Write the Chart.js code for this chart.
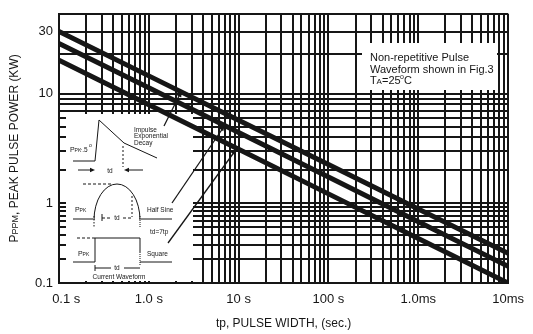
<!DOCTYPE html>
<html><head><meta charset="utf-8">
<script src="https://cdn.jsdelivr.net/npm/chart.js@4/dist/chart.umd.min.js"></script>
<style>html,body{margin:0;padding:0;background:#fff}canvas{display:block}</style>
</head><body>
<canvas id="c" width="533" height="334"></canvas>
<script>
// ---- data (pulse width in microseconds, peak pulse power in kW) ----
const pulseWidthUs = [0.1, 1, 10, 100, 1000, 10000];
const topCurveKW = [30, 13.7, 5.71, 2.25, 0.843, 0.235];
const middleCurveKW = [24.3, 11.1, 4.42, 1.73, 0.586, 0.162];
const bottomCurveKW = [18.1, 7.93, 3.10, 1.215, 0.361, 0.1];

const xTickValues = [0.1, 1, 10, 100, 1000, 10000];
const xTickLabels = ['    0.1 s', '1.0 s', '10 s', '100 s', '1.0ms', '10ms'];
const yTickValues = [0.1, 1, 10, 30];
const yTickLabels = ['0.1', '1', '10', '30'];

// minor grid (1..9 per decade)
const xGrid = [];
[0.1, 1, 10, 100, 1000].forEach(d => { for (let m = 1; m <= 9; m++) xGrid.push(+(m * d).toPrecision(6)); });
xGrid.push(10000);
const yGrid = [];
[0.1, 1].forEach(d => { for (let m = 1; m <= 9; m++) yGrid.push(+(m * d).toPrecision(6)); });
yGrid.push(10, 20, 30, 40);

// the printed y axis is not evenly spaced per decade: piecewise log scale
const yAnchorValues = [0.1, 1, 10, 30, 40];
const yAnchorFractions = [0, 0.2967, 0.7033, 0.934, 1];
const yAnchorLogs = yAnchorValues.map(Math.log10);
function logToDecimal(L) {
  let i = 0;
  while (i < yAnchorLogs.length - 2 && L > yAnchorLogs[i + 1]) i++;
  return yAnchorFractions[i] + (L - yAnchorLogs[i]) / (yAnchorLogs[i + 1] - yAnchorLogs[i]) * (yAnchorFractions[i + 1] - yAnchorFractions[i]);
}
function decimalToLog(d) {
  let i = 0;
  while (i < yAnchorFractions.length - 2 && d > yAnchorFractions[i + 1]) i++;
  return yAnchorLogs[i] + (d - yAnchorFractions[i]) / (yAnchorFractions[i + 1] - yAnchorFractions[i]) * (yAnchorLogs[i + 1] - yAnchorLogs[i]);
}
class PiecewiseLogScale extends Chart.LogarithmicScale {
  getPixelForValue(value) {
    if (value === undefined || value === 0) value = this.min;
    if (value === null || isNaN(value)) return NaN;
    return this.getPixelForDecimal(logToDecimal(Math.log10(value)));
  }
  getValueForPixel(pixel) {
    return Math.pow(10, decimalToLog(this.getDecimalForPixel(pixel)));
  }
}
PiecewiseLogScale.id = 'piecewiseLog';
PiecewiseLogScale.defaults = Chart.LogarithmicScale.defaults;
Chart.register(PiecewiseLogScale);

const INK = '#161616';
const FONT = '"Liberation Sans", Arial, Helvetica, sans-serif';

function near(a, b) { return Math.abs(a.toString().trim ? 0 : 0) + Math.abs(a - b) < 1e-9 * Math.max(1, Math.abs(b)); }

// ---- decorative overlay: inset waveforms, note box, y-axis title with small caps ----
const overlay = {
  id: 'overlay',
  beforeDatasetsDraw(chart) {
    const c = chart.ctx;
    c.save();
    c.fillStyle = '#fff';
    c.fillRect(66, 114, 127, 167);   // inset panel
    c.fillRect(362, 43, 135, 47);    // note box
    c.strokeStyle = INK; c.fillStyle = INK; c.lineWidth = 1;
    const L = (pts, dash) => { c.setLineDash(dash || []); c.beginPath(); c.moveTo(pts[0], pts[1]); for (let i = 2; i < pts.length; i += 2) c.lineTo(pts[i], pts[i + 1]); c.stroke(); c.setLineDash([]); };
    const T = (s, x, y, size, align) => { c.font = size + 'px ' + FONT; c.textAlign = align || 'left'; c.textBaseline = 'middle'; c.fillText(s, x, y); };
    const ppk = (x, y) => { T('P', x, y, 7); T('PK', x + 4.6, y + 0.5, 5); };
    const head = (x1, y1, x2, y2, len, w) => { const a = Math.atan2(y2 - y1, x2 - x1); c.beginPath(); c.moveTo(x2, y2); c.lineTo(x2 - len * Math.cos(a) + w * Math.sin(a), y2 - len * Math.sin(a) - w * Math.cos(a)); c.lineTo(x2 - len * Math.cos(a) - w * Math.sin(a), y2 - len * Math.sin(a) + w * Math.cos(a)); c.closePath(); c.fill(); };

    // exponential decay pulse
    L([73, 161, 95, 161, 99, 120, 124, 143, 157, 158]);
    L([123, 146, 123, 167], [2, 2]);
    L([78, 170, 93, 170]); head(78, 170, 95, 170, 5, 2.2);
    L([143, 170, 127, 170]); head(143, 170, 124, 170, 5, 2.2);
    T('td', 110, 171, 6.5, 'center');
    ppk(70, 150); T('·.5', 80, 150, 6.5); T('o', 89, 146, 5);
    T('Impulse', 134, 130, 6.5); T('Exponential', 134, 136.5, 6.5); T('Decay', 134, 143, 6.5);

    // half sine
    L([83, 184, 113, 184], [3, 2]);
    c.beginPath(); c.ellipse(117, 220, 23, 36, 0, Math.PI, 2 * Math.PI); c.stroke();
    L([73, 219, 93, 219]); L([141, 219, 172, 219]);
    L([94, 216, 94, 228], [1.5, 1.5]); L([140, 216, 140, 228], [1, 1]);
    L([132, 196, 132, 217], [2, 2]);
    L([102, 214, 102, 221]);
    L([102, 218, 112, 218], [3, 2]); L([123, 218, 132, 218], [3, 2]);
    T('td', 117, 218, 6.5, 'center');
    ppk(75, 210); T('Half Sine', 147, 210, 6.5);
    T('td=7tp', 150, 232, 6.5);

    // square
    L([77, 238, 95, 238], [3, 2]);
    L([73, 262, 95, 262, 95, 238, 140, 238, 140, 252]);
    L([140, 252, 140, 266], [1, 1]);
    L([140, 262, 172, 262]);
    L([95, 265, 95, 271]); L([95, 268, 111, 268]); L([124, 268, 140, 268]);
    T('td', 117, 268, 6.5, 'center');
    ppk(78, 254); T('Square', 147, 254, 6.5);
    T('Current Waveform', 119, 277, 6.5, 'center');

    // pointer arrows to the curves
    c.lineWidth = 1.3;
    L([164, 126, 180, 94]); head(164, 126, 182, 90, 7, 2.6);
    L([172, 203, 223, 128]); head(172, 203, 225, 124, 7, 2.6);
    L([168, 243, 235, 151]); head(168, 243, 237, 148, 7, 2.6);

    // note box text
    T('Non-repetitive Pulse', 370, 58, 11);
    T('Waveform shown in Fig.3', 370, 69.5, 11);
    T('T', 370, 81, 11); T('A', 376.5, 82, 8); T('=25', 382, 81, 11); T('o', 400, 77, 7); T('C', 404, 81, 11);

    // y-axis title: P + small-caps PPM
    const area = chart.chartArea;
    const parts = [['P', 12], ['PPM', 9], [', PEAK PULSE POWER (KW)', 12]];
    let total = 0;
    parts.forEach(p => { c.font = p[1] + 'px ' + FONT; total += c.measureText(p[0]).width; });
    c.translate(13, (area.top + area.bottom) / 2);
    c.rotate(-Math.PI / 2);
    let x = -total / 2;
    parts.forEach(p => { c.font = p[1] + 'px ' + FONT; c.textAlign = 'left'; c.textBaseline = 'alphabetic'; c.fillText(p[0], x, 4.5); x += c.measureText(p[0]).width; });
    c.restore();
  }
};

const lineStyle = { borderColor: INK, borderWidth: 5, pointRadius: 0, tension: 0, fill: false };

new Chart(document.getElementById('c'), {
  type: 'line',
  data: {
    datasets: [
      Object.assign({ label: 'Impulse', data: pulseWidthUs.map((x, i) => ({ x, y: topCurveKW[i] })) }, lineStyle),
      Object.assign({ label: 'Half Sine', data: pulseWidthUs.map((x, i) => ({ x, y: middleCurveKW[i] })) }, lineStyle),
      Object.assign({ label: 'Square', data: pulseWidthUs.map((x, i) => ({ x, y: bottomCurveKW[i] })) }, lineStyle)
    ]
  },
  options: {
    responsive: false, animation: false, devicePixelRatio: 1,
    layout: { padding: { top: 10, right: 18, left: 0, bottom: 0 } },
    plugins: { legend: { display: false }, tooltip: { enabled: false } },
    scales: {
      x: {
        type: 'logarithmic', min: 0.1, max: 10000,
        afterBuildTicks: s => { s.ticks = xGrid.map(v => ({ value: v })); },
        afterFit: s => { s.height = 51; },
        grid: { color: INK, lineWidth: 2, drawTicks: false },
        border: { display: true, color: INK, width: 2 },
        ticks: {
          autoSkip: false, maxRotation: 0, padding: 9, color: INK,
          font: { family: FONT, size: 13 },
          callback: v => { const i = xTickValues.findIndex(t => Math.abs(t - v) < 1e-9 * Math.max(1, t)); return i < 0 ? '' : xTickLabels[i]; }
        },
        title: { display: true, text: 'tp, PULSE WIDTH, (sec.)', color: INK, font: { family: FONT, size: 12 }, padding: { top: 0, bottom: 3 } }
      },
      y: {
        type: 'piecewiseLog', min: 0.1, max: 40,
        afterBuildTicks: s => { s.ticks = yGrid.map(v => ({ value: v })); },
        afterFit: s => { s.width = 59; },
        grid: { color: INK, lineWidth: 2, drawTicks: false },
        border: { display: true, color: INK, width: 2 },
        ticks: {
          autoSkip: false, padding: 6, color: INK,
          font: { family: FONT, size: 13 },
          callback: v => { const i = yTickValues.findIndex(t => Math.abs(t - v) < 1e-9 * Math.max(1, t)); return i < 0 ? '' : yTickLabels[i]; }
        },
        title: { display: false }
      }
    }
  },
  plugins: [overlay]
});
</script>
</body></html>
